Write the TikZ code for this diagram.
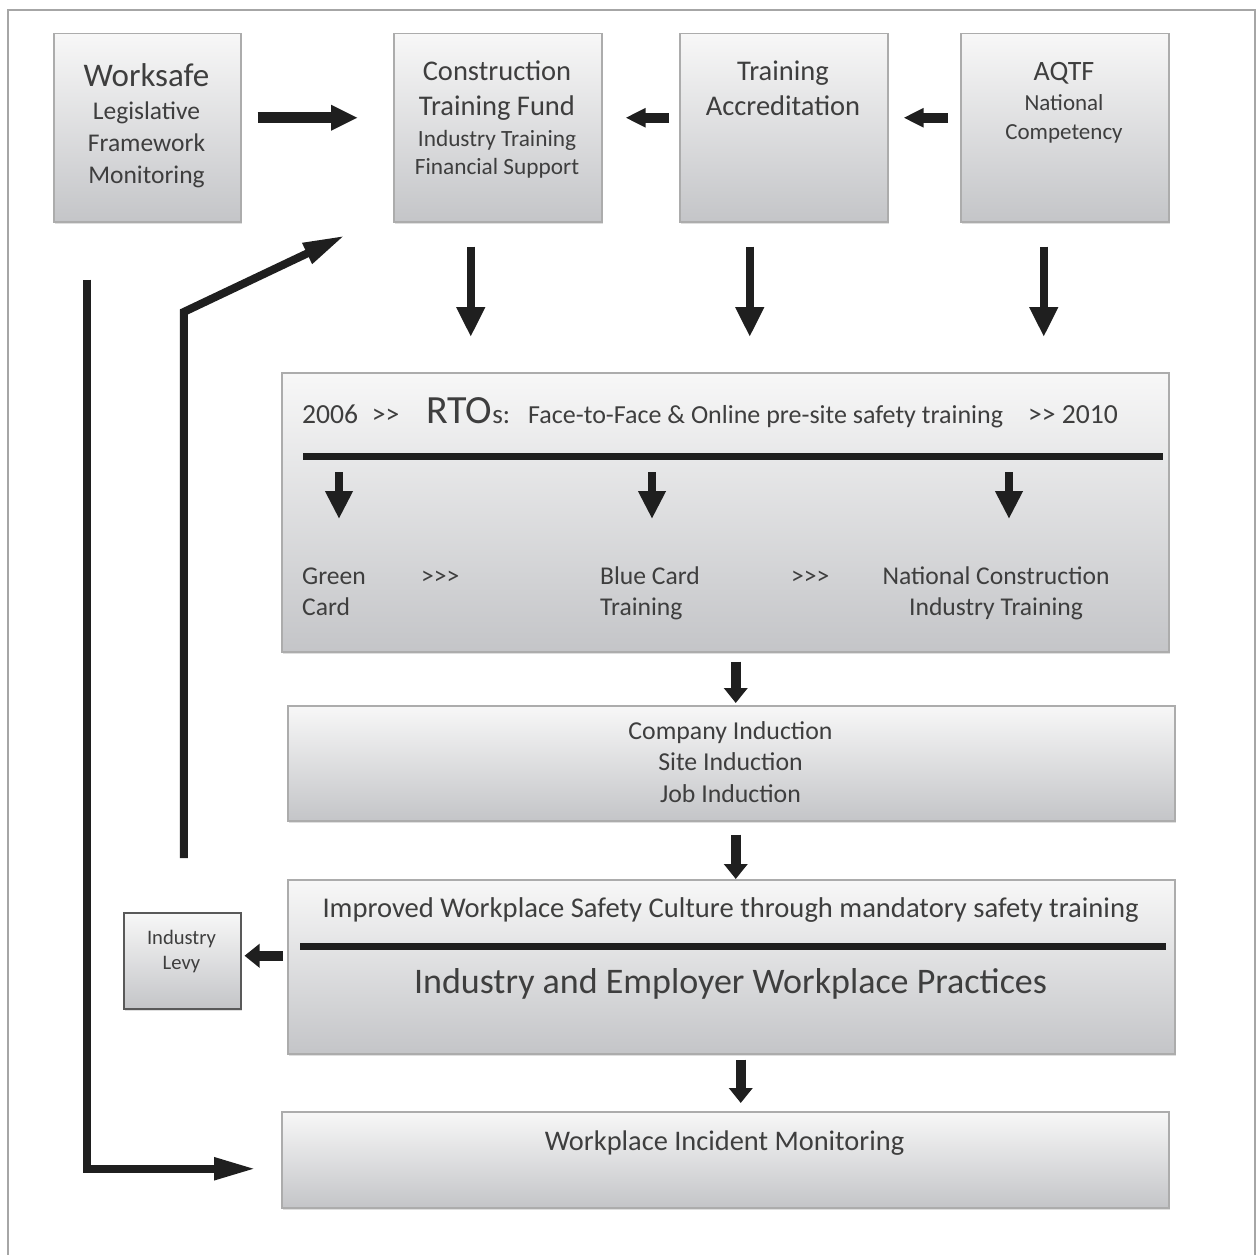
\documentclass[tikz,border=0pt]{standalone}
\usepackage{fontspec}
\setmainfont{Carlito}
\usepackage{tikz}
\usetikzlibrary{arrows.meta,shadows}

\newcommand\sz[2]{\fontsize{#1}{#2}\selectfont}
\newcommand\gts{>\kern0pt>}
\newcommand\gtss{>\kern0pt>\kern0pt>}
\definecolor{boxbot}{RGB}{196,197,200}
\definecolor{ink}{RGB}{62,62,62}

\tikzset{
  box/.style={draw=gray!65, line width=1.5pt, top color=white!94!gray, bottom color=boxbot,
    anchor=north west, inner sep=0pt,
    drop shadow={shadow xshift=1pt, shadow yshift=-2.5pt, opacity=.25, fill=gray}},
  lbl/.style={text=ink, align=center, inner sep=0pt, anchor=north},
  lblw/.style={text=ink, inner sep=0pt, anchor=base west},
  arr/.style={draw=black!88, line join=miter},
  toparr/.style={arr, line width=11pt, -{Triangle[length=27pt,width=24pt]}},
  sidearr/.style={arr, line width=10pt, -{Triangle[length=20pt,width=18pt]}},
  downarr/.style={arr, line width=8pt, -{Triangle[length=30pt,width=27pt]}},
  smallarr/.style={arr, line width=8pt, -{Triangle[length=28pt,width=26pt]}},
  stubarr/.style={arr, line width=10pt, -{Triangle[length=15pt,width=23pt]}},
  longarr/.style={arr, line width=8pt, -{Triangle[length=42pt,width=21pt]}},
  bar/.style={draw=black!88, line width=7pt}
}

\begin{document}
\begin{tikzpicture}[x=1pt, y=-1pt]
    \useasboundingbox (0,0) rectangle (1256,1255);
    \draw[gray!70, line width=2pt] (8,1262) -- (8,10) -- (1255,10) -- (1255,1262);

    \node[box, minimum width=187pt, minimum height=188pt] (ws) at (53,33) {};
    \node[box, minimum width=208pt, minimum height=188pt] (ctf) at (393,33) {};
    \node[box, minimum width=208pt, minimum height=188pt] (ta) at (679,33) {};
    \node[box, minimum width=208pt, minimum height=188pt] (aqtf) at (960,33) {};
    \node[box, minimum width=887pt, minimum height=279pt] (rto) at (281,372) {};
    \node[box, minimum width=887pt, minimum height=115pt] (ind) at (287,705) {};
    \node[box, minimum width=887pt, minimum height=174pt] (prac) at (287,879) {};
    \node[box, draw=black!65, minimum width=117pt, minimum height=96pt] (levy) at (123,912) {};
    \node[box, minimum width=887pt, minimum height=96pt] (wim) at (281,1111) {};

    \node[lbl, font=\sz{33}{40}] (wsT) at (146.5,58) {\strut Worksafe};
    \node[lbl, font=\sz{25.5}{32}] (wsS) at (146.5,97) {\strut Legislative\\Framework\\Monitoring};
    \node[lbl, font=\sz{28.5}{34.5}] (ctfT) at (497,56.5) {\strut Construction\\Training Fund};
    \node[lbl, font=\sz{23.3}{28}] (ctfS) at (497,126.4) {\strut Industry Training\\Financial Support};
    \node[lbl, font=\sz{28.5}{34.5}] (taT) at (783,56.5) {\strut Training\\Accreditation};
    \node[lbl, font=\sz{28}{34}] (aqtfT) at (1064,56.9) {\strut AQTF};
    \node[lbl, font=\sz{23}{28.5}] (aqtfS) at (1064,90.7) {\strut National\\Competency};

    \node[lblw, font=\sz{27.6}{33}] (yr1) at (302,423) {2006\enspace\gts};
    \node[lblw, font=\sz{40}{48}] (rtoT) at (426,423) {RTO{\sz{27}{32}s:}};
    \node[lblw, font=\sz{26}{31}] (rtoS) at (528,423) {Face-to-Face \& Online pre-site safety training};
    \node[lblw, font=\sz{27.6}{33}] (yr2) at (1028,423) {\gts{} 2010};
    \node[lbl, align=left, anchor=north west, font=\sz{25.6}{31}] (green) at (302,562.3) {\strut Green\\Card};
    \node[lblw, font=\sz{25.6}{31}] (gt1) at (421,584) {\gtss};
    \node[lbl, align=left, anchor=north west, font=\sz{25.6}{31}] (blue) at (600,562.3) {\strut Blue Card\\Training};
    \node[lblw, font=\sz{25.6}{31}] (gt2) at (791,584) {\gtss};
    \node[lbl, font=\sz{25.6}{31}] (ncit) at (996,562.3) {\strut National Construction\\Industry Training};

    \node[lbl, font=\sz{25.8}{31.5}] (indT) at (730.5,717) {\strut Company Induction\\Site Induction\\Job Induction};
    \node[lbl, font=\sz{28.6}{34}] (pracT) at (730.5,893) {\strut Improved Workplace Safety Culture through mandatory safety training};
    \node[lbl, anchor=base, font=\sz{36}{43}] (pracS) at (730.5,993) {Industry and Employer Workplace Practices};
    \node[lbl, font=\sz{20.6}{25}] (levyT) at (181.5,927) {\strut Industry\\Levy};
    \node[lbl, anchor=base, font=\sz{28.4}{34}] (wimT) at (724.5,1150) {Workplace Incident Monitoring};

    \draw[bar] (303,456.7) -- (1163,456.7);
    \draw[bar] (300,946) -- (1166,946);
    \foreach \x [count=\i] in {339,652,1009} {
        \coordinate (bt\i) at (\x,472);
        \draw[smallarr] (bt\i) -- ++(0,47);
    }

    \draw[toparr, shorten <=16pt, shorten >=35pt] ([yshift=10pt]ws.east) -- ([yshift=10pt]ctf.west);
    \draw[sidearr, shorten <=10pt, shorten >=23pt] ([yshift=10pt]ta.west) -- ([yshift=10pt]ctf.east);
    \draw[sidearr, shorten <=12pt, shorten >=15pt] ([yshift=10pt]aqtf.west) -- ([yshift=10pt]ta.east);

    \draw[downarr, shorten <=24pt, shorten >=35pt] ([xshift=-27pt]ctf.south) -- ([xshift=-27pt]ctf.south |- rto.north);
    \draw[downarr, shorten <=24pt, shorten >=35pt] ([xshift=-34pt]ta.south) -- ([xshift=-34pt]ta.south |- rto.north);
    \draw[downarr, shorten <=24pt, shorten >=35pt] ([xshift=-21pt]aqtf.south) -- ([xshift=-21pt]aqtf.south |- rto.north);

    \draw[stubarr, shorten <=9pt, shorten >=2pt] ([xshift=10.5pt]rto.south) -- ([xshift=10.5pt]rto.south |- ind.north);
    \draw[stubarr, shorten <=13pt] ([xshift=4.5pt]ind.south) -- ([xshift=4.5pt]ind.south |- prac.north);
    \draw[stubarr, shorten <=5pt, shorten >=8pt] ([xshift=9.5pt]prac.south) -- ([xshift=9.5pt]prac.south |- wim.north);
    \draw[stubarr, shorten <=4pt, shorten >=3pt] ([yshift=11pt]prac.west) -- ([yshift=11pt]prac.west -| levy.east);

    \draw[longarr, shorten >=25pt] ([xshift=-60.5pt,yshift=-57pt]ws.south) |- ([yshift=-9pt]wim.west);
    \draw[longarr] ([xshift=1.5pt,yshift=54pt]levy.north) -- ++(0,-546) -- ([xshift=-48pt,yshift=-13pt]ctf.south west);
\end{tikzpicture}
\end{document}
